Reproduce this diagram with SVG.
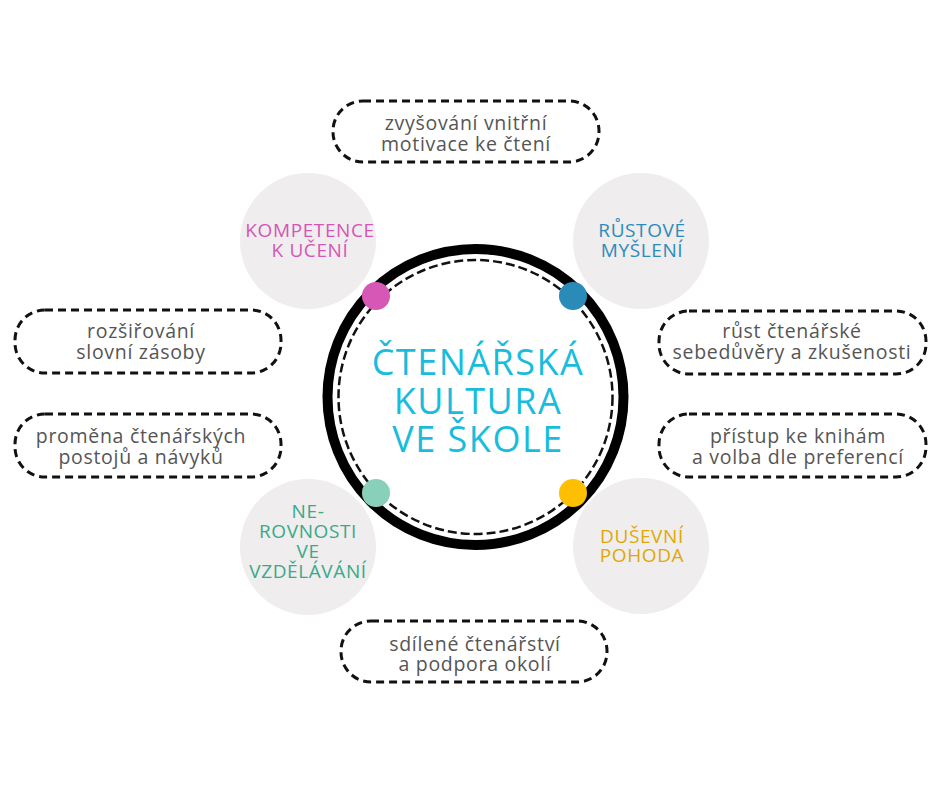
<svg xmlns="http://www.w3.org/2000/svg" width="940" height="788" viewBox="0 0 940 788">
<style>
.bub{fill:#efedee}
.box{fill:#fff;stroke:#111;stroke-width:3;stroke-dasharray:8 5}
.bt{font-family:"Open Sans","Liberation Sans",sans-serif;font-size:19.5px;letter-spacing:0.7px;fill:#555;text-anchor:middle}
.ct{font-family:"Open Sans","Liberation Sans",sans-serif;font-size:19px;letter-spacing:0.6px;text-anchor:middle}
.main{font-family:"Open Sans","Liberation Sans",sans-serif;font-size:36px;letter-spacing:1.5px;fill:#18bcdc;text-anchor:middle}
</style>
<rect width="940" height="788" fill="#fff"/>
<g id="connectors"></g>
<g id="kompetence"><circle class="bub" cx="308" cy="241" r="68"/><text class="ct" fill="#d655b6"><tspan x="310" y="237">KOMPETENCE</tspan><tspan x="310" y="257">K UČENÍ</tspan></text></g>
<g id="rustove"><circle class="bub" cx="641" cy="241" r="68"/><text class="ct" fill="#2b8bbb"><tspan x="642" y="237">RŮSTOVÉ</tspan><tspan x="642" y="257">MYŠLENÍ</tspan></text></g>
<g id="nerovnosti"><circle class="bub" cx="308" cy="547" r="68"/><text class="ct" fill="#3aa98a"><tspan x="308" y="518">NE-</tspan><tspan x="308" y="538">ROVNOSTI</tspan><tspan x="308" y="558">VE</tspan><tspan x="308" y="578">VZDĚLÁVÁNÍ</tspan></text></g>
<g id="dusevni"><circle class="bub" cx="641" cy="546" r="68"/><text class="ct" fill="#e0a806"><tspan x="642" y="543">DUŠEVNÍ</tspan><tspan x="642" y="562">POHODA</tspan></text></g>
<g id="center">
<circle cx="475.5" cy="397" r="148" fill="#fff" stroke="#000" stroke-width="10"/>
<circle cx="475.5" cy="397" r="137" fill="none" stroke="#111" stroke-width="2.5" stroke-dasharray="9 4"/>
<text class="main"><tspan x="478" y="375">ČTENÁŘSKÁ</tspan><tspan x="478" y="414">KULTURA</tspan><tspan x="478" y="452">VE ŠKOLE</tspan></text>
</g>
<g id="dots">
<circle cx="376" cy="296" r="14" fill="#d757b6"/>
<circle cx="573" cy="296" r="14" fill="#2a8ab8"/>
<circle cx="376" cy="493" r="14" fill="#88d0b9"/>
<circle cx="573" cy="493" r="14" fill="#fdbf00"/>
</g>
<g id="motivace"><rect class="box" x="333" y="101" width="266" height="61" rx="30"/><text class="bt"><tspan x="466" y="130">zvyšování vnitřní</tspan><tspan x="466" y="151">motivace ke čtení</tspan></text></g>
<g id="zasoby"><rect class="box" x="15" y="310" width="266" height="63" rx="30"/><text class="bt"><tspan x="141" y="338">rozšiřování</tspan><tspan x="141" y="359">slovní zásoby</tspan></text></g>
<g id="postoje"><rect class="box" x="15" y="414" width="266" height="63" rx="30"/><text class="bt"><tspan x="141" y="443">proměna čtenářských</tspan><tspan x="141" y="464">postojů a návyků</tspan></text></g>
<g id="sebeduvera"><rect class="box" x="659" y="311" width="267" height="63" rx="30"/><text class="bt"><tspan x="792" y="338">růst čtenářské</tspan><tspan x="792" y="359">sebedůvěry a zkušenosti</tspan></text></g>
<g id="pristup"><rect class="box" x="659" y="414" width="267" height="63" rx="30"/><text class="bt"><tspan x="798" y="443">přístup ke knihám</tspan><tspan x="798" y="464">a volba dle preferencí</tspan></text></g>
<g id="sdilene"><rect class="box" x="341" y="621" width="266" height="61" rx="30"/><text class="bt"><tspan x="475" y="651">sdílené čtenářství</tspan><tspan x="475" y="671">a podpora okolí</tspan></text></g>
</svg>
